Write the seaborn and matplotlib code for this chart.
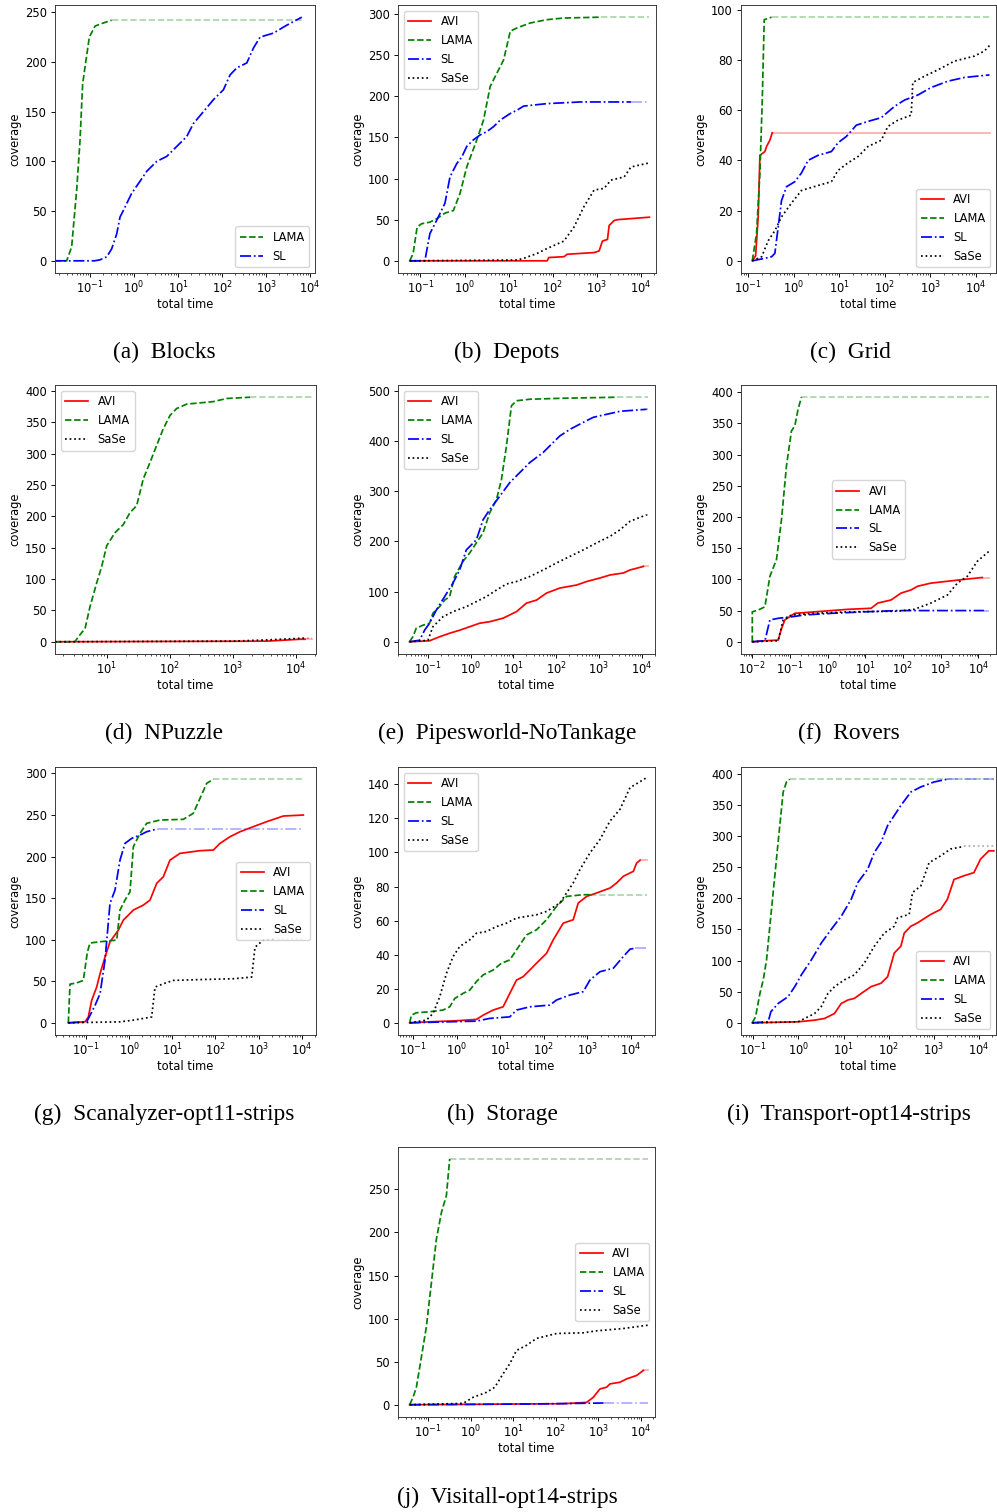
import numpy as np
import matplotlib
matplotlib.use("Agg")
import matplotlib.pyplot as plt
from matplotlib.ticker import MultipleLocator, FixedLocator, LogLocator, NullFormatter
import seaborn as sns

# ---------------- data (x: log10 of total time in s, y: coverage) ----------------
# (a) Blocks
BLOCKS_LAMA_X = [-1.795, -1.53, -1.417, -1.303, -1.227, -1.167, -1.09, -1.015, -0.886, -0.773, -0.508]
BLOCKS_LAMA_Y = [0, 0, 14, 71, 121, 178, 202, 225, 236, 238, 242]
BLOCKS_SL_X = [-1.795, -0.9, -0.773, -0.621, -0.508, -0.394, -0.318, -0.205, -0.053, 0.136, 0.288, 0.515,
               0.742, 0.97, 1.197, 1.348, 1.576, 1.803, 2.03, 2.182, 2.333, 2.561, 2.712, 2.864, 3.167, 3.47, 3.81]
BLOCKS_SL_Y = [0, 0, 1, 4, 12, 27, 44, 54, 68, 80, 90, 100, 105, 115, 125, 138, 150, 162, 172, 187, 194,
               199, 214, 225, 229, 237, 245]
BLOCKS_END = 3.81

# (b) Depots
DEPOTS_AVI_X = [-1.243, 1.872, 1.91, 2.252, 2.328, 2.936, 3.05, 3.126, 3.24, 3.278, 3.392, 3.468, 4.19]
DEPOTS_AVI_Y = [0, 0, 4, 5, 8, 10, 12, 24, 26, 43, 49, 50, 53]
DEPOTS_LAMA_X = [-1.243, -1.167, -1.076, -0.977, -0.787, -0.635, -0.445, -0.255, -0.103, 0.049, 0.277, 0.429,
                 0.581, 0.733, 0.884, 1.036, 1.188, 1.492, 1.872, 2.252, 3.088]
DEPOTS_LAMA_Y = [0, 9, 41, 45, 47, 51, 58, 61, 82, 114, 147, 171, 212, 228, 244, 279, 283, 289, 293, 295, 296]
DEPOTS_SL_X = [-1.243, -0.901, -0.787, -0.635, -0.445, -0.331, -0.179, -0.065, 0.049, 0.2, 0.353, 0.505,
               0.657, 0.809, 1.036, 1.188, 1.34, 1.872, 2.632, 3.772]
DEPOTS_SL_Y = [0, 0, 33, 49, 70, 102, 118, 126, 139, 147, 153, 157, 163, 171, 179, 183, 188, 191, 193, 193]
DEPOTS_SASE_X = [-1.243, 1.188, 1.34, 1.644, 1.872, 2.252, 2.48, 2.708, 2.936, 3.164, 3.316, 3.62, 3.772, 4.19]
DEPOTS_SASE_Y = [0, 1, 3, 9, 15, 24, 41, 66, 86, 88, 98, 102, 114, 119]
DEPOTS_END = 4.19

# (c) Grid
GRID_AVI_X = [-0.912, -0.839, -0.781, -0.745, -0.635, -0.599, -0.526, -0.474]
GRID_AVI_Y = [0, 2, 18, 42, 43.5, 45.5, 48, 51]
GRID_LAMA_X = [-0.912, -0.818, -0.745, -0.693, -0.65, -0.489]
GRID_LAMA_Y = [0, 11, 35, 64, 96, 97]
GRID_SL_X = [-0.912, -0.635, -0.489, -0.416, -0.343, -0.27, -0.161, 0.022, 0.168, 0.314, 0.533, 0.825,
             0.971, 1.153, 1.372, 1.628, 1.92, 2.212, 2.431, 2.723, 3.015, 3.38, 3.745, 4.292]
GRID_SL_Y = [0, 1, 1.6, 3, 13.5, 24, 29.5, 31.5, 35, 40, 42, 43.5, 47, 49.5, 54, 55.5, 57, 61.5, 64, 66,
             69, 71.5, 73, 74]
GRID_SASE_X = [-0.912, -0.708, -0.562, -0.416, -0.27, -0.051, 0.168, 0.533, 0.825, 0.971, 1.19, 1.409,
               1.628, 1.92, 2.066, 2.285, 2.577, 2.613, 2.869, 3.161, 3.526, 3.964, 4.182, 4.314]
GRID_SASE_Y = [0, 1.6, 8, 12, 17.5, 23, 28, 30, 31.5, 36, 39, 41.5, 45.5, 48, 53.5, 56, 58, 71, 73.5, 76,
               79.5, 81.5, 83.5, 86]
GRID_END = 4.314

# (d) NPuzzle
NPUZZLE_AVI_X = [0.181, 3.536, 4.064, 4.143]
NPUZZLE_AVI_Y = [0, 1, 4, 4]
NPUZZLE_LAMA_X = [0.181, 0.498, 0.551, 0.657, 0.736, 0.842, 0.921, 1.0, 1.132, 1.264, 1.37, 1.475, 1.581,
                  1.687, 1.792, 1.898, 2.004, 2.109, 2.268, 2.479, 2.69, 2.902, 3.272]
NPUZZLE_LAMA_Y = [0, 0, 8, 21, 56, 94, 120, 153, 174, 187, 206, 217, 260, 286, 313, 340, 361, 372, 379,
                  381, 383, 388, 390]
NPUZZLE_SASE_X = [0.181, 3.007, 3.536, 3.958, 4.17]
NPUZZLE_SASE_Y = [0, 1, 3, 5, 6]
NPUZZLE_END = 4.25

# (e) Pipesworld-NoTankage
PIPES_AVI_X = [-1.43, -0.961, -0.727, -0.492, -0.258, -0.023, 0.211, 0.445, 0.758, 1.07, 1.305, 1.539,
               1.773, 2.086, 2.477, 2.711, 3.023, 3.258, 3.57, 3.727, 4.039]
PIPES_AVI_Y = [0, 2, 10, 17, 23, 30, 37, 40, 47, 60, 77, 83, 97, 107, 113, 120, 127, 133, 137, 143, 150]
PIPES_LAMA_X = [-1.43, -1.352, -1.273, -1.117, -0.961, -0.883, -0.727, -0.609, -0.492, -0.375, -0.18,
                -0.023, 0.133, 0.289, 0.445, 0.602, 0.719, 0.836, 0.953, 1.07, 1.383, 2.164, 3.414]
PIPES_LAMA_Y = [0, 10, 27, 33, 37, 57, 70, 83, 90, 130, 160, 177, 197, 217, 257, 283, 323, 390, 470, 480,
                483, 485, 487]
PIPES_SL_X = [-1.43, -1.195, -1.078, -0.961, -0.805, -0.609, -0.414, -0.258, -0.102, 0.133, 0.289, 0.445,
              0.68, 0.914, 1.148, 1.383, 1.695, 1.93, 2.086, 2.32, 2.633, 2.867, 3.18, 3.492, 4.117]
PIPES_SL_Y = [0, 3, 23, 37, 63, 90, 117, 143, 183, 203, 243, 263, 290, 317, 337, 357, 377, 397, 410, 423,
              437, 447, 453, 459, 463]
PIPES_SASE_X = [-1.43, -1.0, -0.883, -0.648, -0.414, -0.102, 0.133, 0.367, 0.602, 0.836, 1.07, 1.383,
                1.695, 2.008, 2.32, 2.633, 2.945, 3.258, 3.492, 3.727, 4.117]
PIPES_SASE_Y = [0, 3, 30, 50, 60, 70, 80, 90, 103, 115, 120, 130, 143, 157, 170, 183, 197, 210, 223, 240, 253]
PIPES_END = 4.15

# (f) Rovers
ROVERS_AVI_X = [-2.0, -1.665, -1.313, -1.225, -1.137, -0.872, -0.344, 0.097, 0.537, 1.154, 1.33, 1.683,
                1.947, 2.211, 2.388, 2.74, 3.181, 3.621, 4.106]
ROVERS_AVI_Y = [0, 1.6, 2.7, 21, 35, 45.6, 48, 50, 52, 53.7, 62, 67, 78, 83, 89, 94, 97, 100, 103]
ROVERS_LAMA_X = [-2.0, -2.0, -1.841, -1.665, -1.533, -1.357, -1.225, -1.093, -0.96, -0.872, -0.784, -0.696]
ROVERS_LAMA_Y = [0, 48, 51, 56, 105, 132, 196, 282, 338, 346, 373, 392]
ROVERS_SL_X = [-2.0, -1.665, -1.533, -1.313, -0.96, -0.608, 0.097, 0.978, 1.859, 4.15]
ROVERS_SL_Y = [0, 1.6, 35, 37.6, 40, 43, 45.6, 48, 50, 50]
ROVERS_SASE_X = [-2.0, -1.313, -1.181, -0.96, -0.344, 0.537, 1.859, 2.3, 2.74, 3.181, 3.445, 3.709, 3.974, 4.282]
ROVERS_SASE_Y = [0, 1.6, 35, 43, 45.6, 48, 49, 52, 62, 75, 94, 105, 129, 145]
ROVERS_END = 4.28

# (g) Scanalyzer-opt11-strips
SCAN_AVI_X = [-1.41, -1.023, -0.946, -0.869, -0.753, -0.675, -0.56, -0.444, -0.25, -0.134, 0.097, 0.329,
              0.484, 0.638, 0.793, 0.947, 1.179, 1.643, 1.952, 2.107, 2.338, 2.57, 2.879, 3.189, 3.575, 4.039]
SCAN_AVI_Y = [0, 1.2, 7, 27, 43, 59, 79, 97.5, 111.5, 123.5, 135.6, 141.6, 147.6, 167.7, 175.7, 195.7,
              203.8, 207, 207.8, 215.8, 223.8, 229.8, 235.9, 241.9, 248.7, 249.9]
SCAN_LAMA_X = [-1.41, -1.371, -1.216, -1.062, -0.969, -0.907, -0.675, -0.289, -0.212, -0.096, 0.02, 0.097,
               0.252, 0.406, 0.716, 1.257, 1.488, 1.643, 1.798, 1.952]
SCAN_LAMA_Y = [0, 46.5, 48, 51, 85, 96, 97.5, 99.5, 135.6, 147.6, 157.6, 211.8, 227.8, 239.9, 243.9, 244.7,
               252, 270, 288, 292.8]
SCAN_SL_X = [-1.41, -0.985, -0.907, -0.791, -0.675, -0.56, -0.444, -0.328, -0.212, -0.096, 0.059, 0.252,
             0.406, 0.638]
SCAN_SL_Y = [0, 1.2, 9, 21, 35, 75, 143.6, 159.6, 195.7, 215.8, 221.8, 225.8, 229.8, 233]
SCAN_SASE_X = [-1.41, -0.212, 0.097, 0.522, 0.6, 0.793, 1.025, 1.643, 2.416, 2.841, 2.918, 3.111, 3.343]
SCAN_SASE_Y = [0, 1.2, 3.2, 7, 43, 47, 51, 52, 53, 55, 91, 99.5, 100.3]
SCAN_END = 4.04

# (h) Storage
STORAGE_AVI_X = [-1.077, -0.617, -0.005, 0.455, 0.608, 0.838, 1.067, 1.22, 1.374, 1.527, 1.68, 1.833, 2.063,
                 2.216, 2.446, 2.675, 2.79, 2.982, 3.211, 3.518, 3.671, 3.824, 4.054, 4.13, 4.207]
STORAGE_AVI_Y = [0, 0.6, 1.2, 2, 4.5, 7.5, 9.4, 17.3, 25.1, 27.1, 31, 35, 40.8, 48.7, 58.5, 60.5, 70.3, 74.2,
                 76.2, 79.1, 82.1, 86, 88.9, 93.8, 95.4]
STORAGE_LAMA_X = [-1.077, -1.038, -0.923, -0.617, -0.311, -0.158, -0.043, 0.149, 0.302, 0.455, 0.608, 0.838,
                  1.029, 1.22, 1.374, 1.603, 1.833, 2.063, 2.292, 2.522, 2.905, 3.058]
STORAGE_LAMA_Y = [0, 4.5, 5.9, 6.5, 7.5, 9.4, 14.3, 17.3, 19.2, 24.2, 28.1, 31, 35, 36.9, 42.8, 51.6, 54.6,
                  60.5, 68.3, 74.2, 75.2, 75.2]
STORAGE_SL_X = [-1.077, 0.455, 0.761, 1.22, 1.374, 1.68, 2.139, 2.292, 2.599, 2.905, 3.058, 3.288, 3.594,
                3.824, 3.977, 4.092]
STORAGE_SL_Y = [0, 1, 2.6, 3.5, 7.5, 9.4, 10.4, 13.4, 16.3, 18.3, 25.1, 30, 32, 38.9, 43.2, 43.8]
STORAGE_SASE_X = [-1.077, -0.694, -0.541, -0.387, -0.234, -0.081, 0.072, 0.302, 0.455, 0.685, 0.914, 1.144,
                  1.374, 1.833, 2.063, 2.369, 2.522, 2.675, 2.828, 3.058, 3.288, 3.518, 3.747, 3.977, 4.36]
STORAGE_SASE_Y = [0, 1.6, 5.5, 15.3, 29, 38.9, 44.8, 48.7, 52.6, 53.6, 56.5, 58.5, 61.5, 63.4, 65.4, 70.3,
                  76.2, 82.1, 89.9, 99.7, 107.6, 118.4, 125.3, 138, 143.9]
STORAGE_END = 4.36

# (i) Transport-opt14-strips
TRANS_AVI_X = [-1.022, -0.007, 0.36, 0.581, 0.801, 0.949, 1.096, 1.243, 1.39, 1.61, 1.831, 1.978, 2.125,
               2.272, 2.346, 2.493, 2.64, 2.934, 3.154, 3.301, 3.449, 3.669, 3.89, 4.037, 4.221, 4.331]
TRANS_AVI_Y = [0, 1.6, 4.3, 7, 15, 31, 36.6, 39.3, 47, 58, 63.5, 74, 112, 123, 144, 155, 160.4, 174, 182,
               198, 230, 236, 241, 262.7, 276, 276]
TRANS_LAMA_X = [-1.022, -0.949, -0.853, -0.779, -0.706, -0.596, -0.449, -0.338, -0.265, -0.191]
TRANS_LAMA_Y = [0, 9.7, 47, 69, 101, 182, 290, 370, 386.5, 391]
TRANS_SL_X = [-1.022, -0.669, -0.61, -0.449, -0.228, -0.081, 0.066, 0.287, 0.507, 0.728, 0.949, 1.169,
              1.316, 1.537, 1.684, 1.831, 1.978, 2.125, 2.272, 2.493, 2.713, 3.007, 3.301]
TRANS_SL_Y = [0, 1.6, 17.8, 31, 42, 58, 77, 101, 128, 150, 171, 198, 225, 246.6, 273.5, 289.6, 316.6, 332.7,
              348.9, 370.4, 378.5, 386.5, 391]
TRANS_SASE_X = [-1.022, -0.007, 0.14, 0.36, 0.507, 0.654, 0.801, 1.022, 1.243, 1.463, 1.684, 1.904, 2.125,
                2.199, 2.456, 2.529, 2.713, 2.897, 3.154, 3.375, 3.669]
TRANS_SASE_Y = [0, 1.6, 7, 15, 26, 47, 58, 69, 77, 96, 123, 144, 155, 168.5, 174, 209, 219.7, 257, 268,
                279, 283]
TRANS_END = 4.331

# (j) Visitall-opt14-strips
VISIT_AVI_X = [-1.432, 2.179, 2.728, 2.885, 3.042, 3.199, 3.278, 3.513, 3.67, 3.906, 4.063]
VISIT_AVI_Y = [0, 1.2, 2.7, 8.6, 18.3, 20.3, 24.2, 26.1, 30, 34, 39.8]
VISIT_LAMA_X = [-1.432, -1.353, -1.275, -1.157, -1.039, -0.922, -0.804, -0.686, -0.568, -0.49]
VISIT_LAMA_Y = [0, 8.6, 20, 55, 90.5, 141, 192, 223, 243, 285.5]
VISIT_SL_X = [-1.432, 1.394, 3.121]
VISIT_SL_Y = [0, 0.8, 2]
VISIT_SASE_X = [-1.432, -0.176, 0.06, 0.374, 0.57, 0.766, 0.923, 1.08, 1.316, 1.551, 2.022, 2.65, 2.964,
                3.592, 4.18]
VISIT_SASE_Y = [0, 1.6, 8.6, 14.4, 20.3, 36, 47.6, 63, 69, 77, 82.7, 83.5, 85.8, 88.5, 92.4]
VISIT_END = 4.18

CAPTIONS = ["(a)  Blocks", "(b)  Depots", "(c)  Grid", "(d)  NPuzzle", "(e)  Pipesworld-NoTankage",
            "(f)  Rovers", "(g)  Scanalyzer-opt11-strips", "(h)  Storage", "(i)  Transport-opt14-strips",
            "(j)  Visitall-opt14-strips"]

# ---------------- styling ----------------
S = 0.83
plt.rcParams.update({
    "font.family": ["DejaVu Sans"],
    "font.size": 10 * S,
    "axes.linewidth": 0.8 * S,
    "xtick.major.size": 3.5 * S, "ytick.major.size": 3.5 * S,
    "xtick.minor.size": 2.0 * S, "ytick.minor.size": 2.0 * S,
    "xtick.major.width": 0.8 * S, "ytick.major.width": 0.8 * S,
    "xtick.minor.width": 0.6 * S, "ytick.minor.width": 0.6 * S,
    "xtick.major.pad": 2.0, "ytick.major.pad": 3.5 * S,
    "xtick.labelsize": 10 * S, "ytick.labelsize": 10 * S,
    "axes.labelsize": 10 * S, "axes.labelpad": 4.0 * S,
    "legend.fontsize": 10 * S,
    "axes.edgecolor": "#333333",
})

COLORS = {"AVI": "red", "LAMA": "green", "SL": "blue", "SaSe": "black"}
STYLES = {"AVI": "-", "LAMA": "--", "SL": "-.", "SaSe": ":"}
LW = 1.5 * S

W, H = 997, 1512
PANELS = [
    dict(series=[("LAMA", BLOCKS_LAMA_X, BLOCKS_LAMA_Y), ("SL", BLOCKS_SL_X, BLOCKS_SL_Y)],
         end=BLOCKS_END, rect=(55, 5, 315, 273), xlim=(-1.795, 4.11), ylim=(-12.25, 257.25), ystep=50,
         loc="lower right", cap=(164, 352)),
    dict(series=[("AVI", DEPOTS_AVI_X, DEPOTS_AVI_Y), ("LAMA", DEPOTS_LAMA_X, DEPOTS_LAMA_Y),
                 ("SL", DEPOTS_SL_X, DEPOTS_SL_Y), ("SaSe", DEPOTS_SASE_X, DEPOTS_SASE_Y)],
         end=DEPOTS_END, rect=(398, 5, 656, 273), xlim=(-1.51, 4.34), ylim=(-14.8, 310.8), ystep=50,
         loc="upper left", cap=(507, 352)),
    dict(series=[("AVI", GRID_AVI_X, GRID_AVI_Y), ("LAMA", GRID_LAMA_X, GRID_LAMA_Y),
                 ("SL", GRID_SL_X, GRID_SL_Y), ("SaSe", GRID_SASE_X, GRID_SASE_Y)],
         end=GRID_END, rect=(741, 5, 996, 273), xlim=(-1.16, 4.44), ylim=(-4.85, 101.85), ystep=20,
         loc="lower right", cap=(850, 352)),
    dict(series=[("AVI", NPUZZLE_AVI_X, NPUZZLE_AVI_Y), ("LAMA", NPUZZLE_LAMA_X, NPUZZLE_LAMA_Y),
                 ("SaSe", NPUZZLE_SASE_X, NPUZZLE_SASE_Y)],
         end=NPUZZLE_END, rect=(55, 385, 316, 654), xlim=(0.181, 4.318), ylim=(-19.5, 409.5), ystep=50,
         loc="upper left", cap=(164, 733)),
    dict(series=[("AVI", PIPES_AVI_X, PIPES_AVI_Y), ("LAMA", PIPES_LAMA_X, PIPES_LAMA_Y),
                 ("SL", PIPES_SL_X, PIPES_SL_Y), ("SaSe", PIPES_SASE_X, PIPES_SASE_Y)],
         end=PIPES_END, rect=(398, 385, 655, 654), xlim=(-1.70, 4.31), ylim=(-24.35, 511.35), ystep=100,
         loc="upper left", cap=(507, 733)),
    dict(series=[("AVI", ROVERS_AVI_X, ROVERS_AVI_Y), ("LAMA", ROVERS_LAMA_X, ROVERS_LAMA_Y),
                 ("SL", ROVERS_SL_X, ROVERS_SL_Y), ("SaSe", ROVERS_SASE_X, ROVERS_SASE_Y)],
         end=ROVERS_END, rect=(741, 385, 996, 654), xlim=(-2.30, 4.47), ylim=(-19.6, 411.6), ystep=50,
         loc="center", cap=(849, 733)),
    dict(series=[("AVI", SCAN_AVI_X, SCAN_AVI_Y), ("LAMA", SCAN_LAMA_X, SCAN_LAMA_Y),
                 ("SL", SCAN_SL_X, SCAN_SL_Y), ("SaSe", SCAN_SASE_X, SCAN_SASE_Y)],
         end=SCAN_END, rect=(55, 767, 316, 1035), xlim=(-1.719, 4.332), ylim=(-14.65, 307.65), ystep=50,
         loc="center right", cap=(164, 1114)),
    dict(series=[("AVI", STORAGE_AVI_X, STORAGE_AVI_Y), ("LAMA", STORAGE_LAMA_X, STORAGE_LAMA_Y),
                 ("SL", STORAGE_SL_X, STORAGE_SL_Y), ("SaSe", STORAGE_SASE_X, STORAGE_SASE_Y)],
         end=STORAGE_END, rect=(398, 767, 655, 1035), xlim=(-1.345, 4.551), ylim=(-7.15, 150.15), ystep=20,
         loc="upper left", cap=(502, 1114)),
    dict(series=[("AVI", TRANS_AVI_X, TRANS_AVI_Y), ("LAMA", TRANS_LAMA_X, TRANS_LAMA_Y),
                 ("SL", TRANS_SL_X, TRANS_SL_Y), ("SaSe", TRANS_SASE_X, TRANS_SASE_Y)],
         end=TRANS_END, rect=(741, 767, 996, 1035), xlim=(-1.272, 4.38), ylim=(-19.55, 410.55), ystep=50,
         loc="lower right", cap=(849, 1114)),
    dict(series=[("AVI", VISIT_AVI_X, VISIT_AVI_Y), ("LAMA", VISIT_LAMA_X, VISIT_LAMA_Y),
                 ("SL", VISIT_SL_X, VISIT_SL_Y), ("SaSe", VISIT_SASE_X, VISIT_SASE_Y)],
         end=VISIT_END, rect=(398, 1147, 655, 1417), xlim=(-1.706, 4.337), ylim=(-14.25, 299.25), ystep=50,
         loc="center right", cap=(507, 1497)),
]

fig = plt.figure(figsize=(W / 100, H / 100), dpi=100)

for p, caption in zip(PANELS, CAPTIONS):
    x0, y0, x1, y1 = p["rect"]
    ax = fig.add_axes([x0 / W, 1 - y1 / H, (x1 - x0) / W, (y1 - y0) / H])
    ax.set_xscale("log")
    for name, lx, cy in p["series"]:
        t = 10.0 ** np.asarray(lx, dtype=float)
        c = np.asarray(cy, dtype=float)
        sns.lineplot(x=t, y=c, ax=ax, color=COLORS[name], linestyle=STYLES[name], linewidth=LW,
                     label=name, estimator=None, sort=False)
        if lx[-1] < p["end"] - 0.01:
            sns.lineplot(x=[t[-1], 10.0 ** p["end"]], y=[c[-1], c[-1]], ax=ax, color=COLORS[name],
                         linestyle=STYLES[name], linewidth=LW, alpha=0.33, estimator=None, sort=False,
                         legend=False)
    lo, hi = p["xlim"]
    ax.set_xlim(10.0 ** lo, 10.0 ** hi)
    ax.set_ylim(*p["ylim"])
    decades = [10.0 ** k for k in range(int(np.ceil(lo)), int(np.floor(hi)) + 1)]
    ax.xaxis.set_major_locator(FixedLocator(decades))
    ax.xaxis.set_minor_locator(LogLocator(base=10, subs=np.arange(2, 10), numticks=30))
    ax.xaxis.set_minor_formatter(NullFormatter())
    ax.yaxis.set_major_locator(MultipleLocator(p["ystep"]))
    ax.set_xlabel("total time", labelpad=1.5)
    ax.set_ylabel("coverage", labelpad=2.6)
    ax.legend(loc=p["loc"])
    cx, cy_ = p["cap"]
    fig.text(cx / W, 1 - cy_ / H, caption, ha="center", va="center",
             family="Liberation Serif", fontsize=16.8)

fig.savefig("out.png", dpi=100)
